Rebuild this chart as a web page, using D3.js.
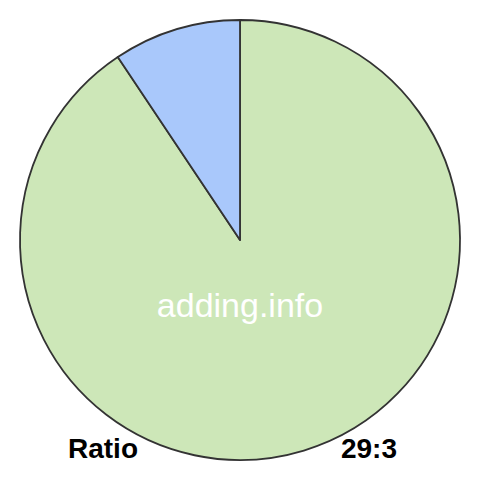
<!DOCTYPE html>
<html><head><meta charset="utf-8">
<script src="https://cdn.jsdelivr.net/npm/d3@7"></script>
<style>html,body{margin:0;padding:0;background:#fff;}</style>
</head><body>
<svg id="c" width="480" height="480"></svg>
<script>
const categories = ["29", "3"];
const values = [29, 3];
const colors = ["#cde7b8", "#a9c8fb"];
const centerLabel = "adding.info";
const leftLabel = "Ratio";
const rightLabel = "29:3";

const svg = d3.select("#c");
const cx = 240, cy = 240, r = 220;
const g = svg.append("g").attr("transform", `translate(${cx},${cy})`);
const pie = d3.pie().sort(null).value(d => d.v)
  .startAngle(0).endAngle(2 * Math.PI);
const data = categories.map((c, i) => ({c, v: values[i], col: colors[i]}));
const arc = d3.arc().innerRadius(0).outerRadius(r);
g.selectAll("path").data(pie(data)).join("path")
  .attr("d", arc)
  .attr("fill", d => d.data.col)
  .attr("stroke", "#333")
  .attr("stroke-width", 1.8)
  .attr("stroke-linejoin", "round");

svg.append("text").attr("x", 240).attr("y", 317)
  .attr("text-anchor", "middle")
  .attr("font-family", "Liberation Sans, Arial, sans-serif")
  .attr("font-size", 34).attr("fill", "#fff").text(centerLabel);
svg.append("text").attr("x", 68).attr("y", 458)
  .attr("font-family", "Liberation Sans, Arial, sans-serif")
  .attr("font-weight", "bold").attr("font-size", 28).attr("fill", "#000").text(leftLabel);
svg.append("text").attr("x", 397).attr("y", 458).attr("text-anchor", "end")
  .attr("font-family", "Liberation Sans, Arial, sans-serif")
  .attr("font-weight", "bold").attr("font-size", 28).attr("fill", "#000").text(rightLabel);
</script>
</body></html>
